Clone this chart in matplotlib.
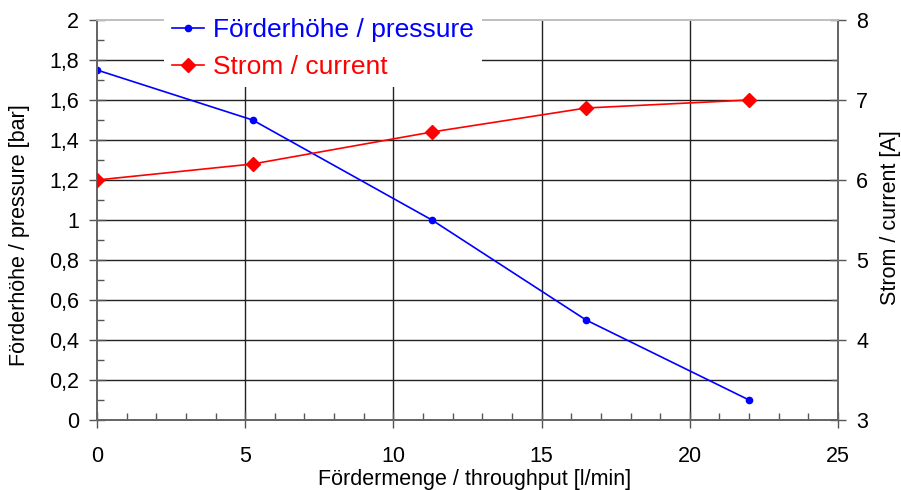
import matplotlib
matplotlib.use("Agg")
import matplotlib.pyplot as plt
from matplotlib.ticker import MultipleLocator, FuncFormatter

plt.rcParams['font.family'] = ['Liberation Sans', 'DejaVu Sans']

# throughput [l/min]
flow = [0, 5.25, 11.3, 16.5, 22]
# pressure [bar]
pressure = [1.75, 1.5, 1.0, 0.5, 0.1]
# current [A]
current = [6.0, 6.2, 6.6, 6.9, 7.0]

fig = plt.figure(figsize=(9.01, 4.9), dpi=100)
ax = fig.add_axes([97/901, 70/490, 741/901, 400/490])
ax2 = ax.twinx()

comma = FuncFormatter(lambda v, p: ('%g' % round(v, 3)).replace('.', ','))

# grid
for y in [0.2 * i for i in range(1, 10)]:
    ax.axhline(y, color='#222222', lw=1.0, zorder=0)
for x in [5, 10, 15, 20]:
    ax.axvline(x, color='#222222', lw=1.0, zorder=0)

l1, = ax.plot(flow, pressure, color='#0000ff', lw=1.2, marker='o', ms=4.5,
              label='Förderhöhe / pressure', zorder=3)
l2, = ax2.plot(flow, current, color='#ff0000', lw=1.2, marker='D', ms=7.5,
               label='Strom / current', zorder=3)

ax.set_xlim(0, 25)
ax.set_ylim(0, 2)
ax2.set_ylim(3, 8)

ax.xaxis.set_major_locator(MultipleLocator(5))
ax.xaxis.set_minor_locator(MultipleLocator(1))
ax.yaxis.set_major_locator(MultipleLocator(0.2))
ax.yaxis.set_minor_locator(MultipleLocator(0.1))
ax.yaxis.set_major_formatter(comma)
ax2.yaxis.set_major_locator(MultipleLocator(1))
ax2.yaxis.set_minor_locator(MultipleLocator(0.5))

for a in (ax, ax2):
    a.tick_params(which='major', direction='inout', length=12, width=1,
                  color='#555555', labelsize=15.5)
    a.tick_params(which='minor', direction='in', length=5, width=1,
                  color='#555555')
    for s in ('left', 'bottom', 'right'):
        a.spines[s].set_color('#666666')
        a.spines[s].set_linewidth(1.3)
    a.spines['top'].set_color('#c0c0c0')
    a.spines['top'].set_linewidth(1.3)
ax.tick_params(axis='x', pad=13)
ax.tick_params(axis='y', pad=7)
ax2.tick_params(axis='y', pad=7)

ax.set_xlabel('Fördermenge / throughput [l/min]', fontsize=15.5, va='center')
ax.xaxis.set_label_coords(0.51, -0.148)
ax.set_ylabel('Förderhöhe / pressure [bar]', fontsize=15.5, va='center')
ax.yaxis.set_label_coords(-0.105, 0.4625)
ax2.set_ylabel('Strom / current [A]', fontsize=15.5, va='center')
ax2.yaxis.set_label_coords(1.071, 0.505)

leg = fig.legend(handles=[l1, l2], loc='upper left',
                 bbox_to_anchor=(151/901, 1 + 3/490), frameon=True,
                 fontsize=19, handlelength=1.2, handletextpad=0.35,
                 labelspacing=0.48, borderpad=0.3)
leg.get_frame().set_facecolor('white')
leg.get_frame().set_edgecolor('none')
leg.get_frame().set_alpha(1)
leg.set_zorder(10)
for txt, line in zip(leg.get_texts(), [l1, l2]):
    txt.set_color(line.get_color())

fig.savefig('out.png', dpi=100)
